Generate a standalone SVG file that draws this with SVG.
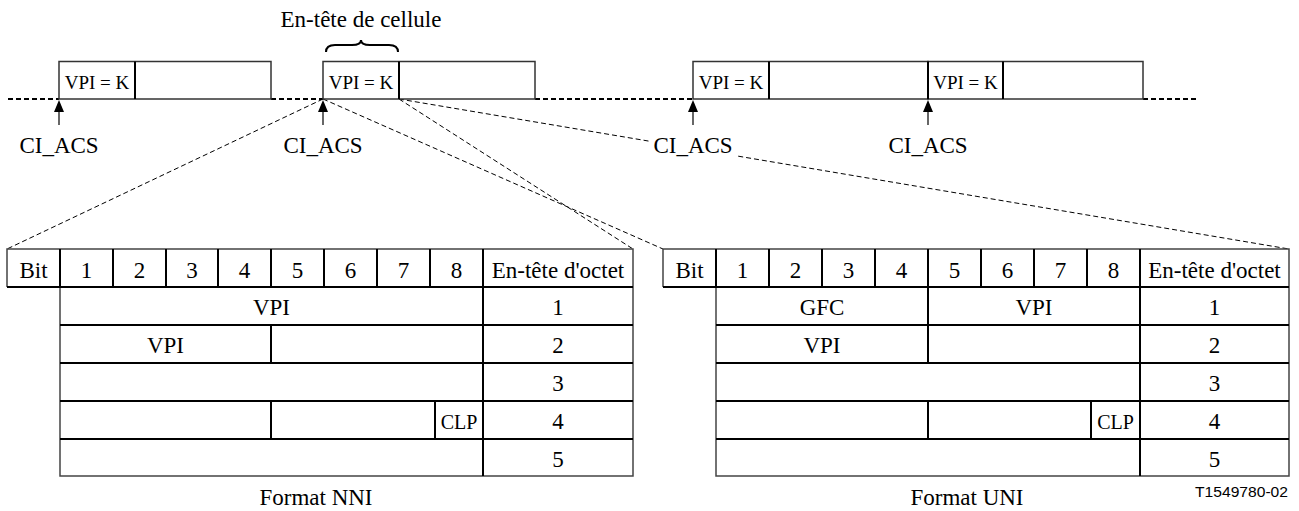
<svg xmlns="http://www.w3.org/2000/svg" width="1299" height="511" viewBox="0 0 1299 511" font-family="'Liberation Serif', 'Times New Roman', serif">
<defs>
<style>
.lbl{font-family:'Liberation Serif','Times New Roman',serif;font-size:23px;text-anchor:middle}
.k{font-family:'Liberation Serif','Times New Roman',serif;font-size:19px;text-anchor:middle}
.clp{font-family:'Liberation Serif','Times New Roman',serif;font-size:20px;text-anchor:middle}
.cell{fill:#fff;stroke:#333;stroke-width:1.5}
.div{stroke:#000;stroke-width:2}
.base{stroke:#000;stroke-width:2;stroke-dasharray:5 3;fill:none}
.fan{stroke:#000;stroke-width:1;stroke-dasharray:5 3;fill:none}
.shaft{stroke:#000;stroke-width:1.2}
.outer{fill:none;stroke:#444;stroke-width:1.5}
.in{stroke:#000;stroke-width:2}
</style>
</defs>
<rect width="1299" height="511" fill="#fff"/>

<g id="connectors">
<line class="base" x1="8" y1="99" x2="59" y2="99"/>
<line class="base" x1="271" y1="99" x2="323" y2="99"/>
<line class="base" x1="535" y1="99" x2="693" y2="99"/>
<line class="base" x1="1143" y1="99" x2="1196" y2="99"/>
<line class="fan" x1="323" y1="99" x2="7" y2="249"/>
<line class="fan" x1="399" y1="99" x2="633" y2="249"/>
<line class="fan" x1="323" y1="99" x2="663" y2="249"/>
<line class="fan" x1="399" y1="99" x2="1289" y2="249"/>
</g>

<g id="title">
<text class="lbl" x="361" y="27">En-tête de cellule</text>
<path d="M326,52 Q326,45 335,45 L352,45 Q361,45 361,40 Q361,45 370,45 L389,45 Q398,45 398,52" fill="none" stroke="#000" stroke-width="2"/>
</g>

<g id="cell1">
<rect class="cell" x="59" y="61.5" width="212" height="37.5"/>
<line class="div" x1="135" y1="61.5" x2="135" y2="99"/>
<text class="k" x="97" y="89">VPI = K</text>
</g>
<g id="cell2">
<rect class="cell" x="323" y="61.5" width="212" height="37.5"/>
<line class="div" x1="399" y1="61.5" x2="399" y2="99"/>
<text class="k" x="361" y="89">VPI = K</text>
</g>
<g id="cell3">
<rect class="cell" x="693" y="61.5" width="235" height="37.5"/>
<line class="div" x1="769" y1="61.5" x2="769" y2="99"/>
<text class="k" x="731" y="89">VPI = K</text>
</g>
<g id="cell4">
<rect class="cell" x="928" y="61.5" width="215" height="37.5"/>
<line class="div" x1="928" y1="61.5" x2="928" y2="99"/>
<line class="div" x1="1003" y1="61.5" x2="1003" y2="99"/>
<text class="k" x="965.5" y="89">VPI = K</text>
</g>

<g id="ci1">
<line class="shaft" x1="59" y1="108" x2="59" y2="125"/>
<polygon points="59,100 54,112 64,112" fill="#000"/>
<text class="lbl" x="59" y="153">CI_ACS</text>
</g>
<g id="ci2">
<line class="shaft" x1="323" y1="108" x2="323" y2="125"/>
<polygon points="323,100 318,112 328,112" fill="#000"/>
<text class="lbl" x="323" y="153">CI_ACS</text>
</g>
<g id="ci3">
<line class="shaft" x1="693" y1="108" x2="693" y2="125"/>
<polygon points="693,100 688,112 698,112" fill="#000"/>
<rect x="651" y="133" width="85" height="24" fill="#fff"/>
<text class="lbl" x="693" y="153">CI_ACS</text>
</g>
<g id="ci4">
<line class="shaft" x1="928" y1="108" x2="928" y2="125"/>
<polygon points="928,100 923,112 933,112" fill="#000"/>
<text class="lbl" x="928" y="153">CI_ACS</text>
</g>

<g id="nni">
<rect x="7" y="249" width="626" height="38" fill="#fff"/>
<rect x="60" y="287" width="573" height="189" fill="#fff"/>
<path class="outer" d="M7,287 L7,249 L633,249 L633,476 L60,476 L60,287"/>
<line class="in" x1="7" y1="287" x2="633" y2="287"/>
<line class="in" x1="60" y1="249" x2="60" y2="287"/>
<line class="in" x1="113" y1="249" x2="113" y2="287"/>
<line class="in" x1="166" y1="249" x2="166" y2="287"/>
<line class="in" x1="218" y1="249" x2="218" y2="287"/>
<line class="in" x1="271" y1="249" x2="271" y2="287"/>
<line class="in" x1="324" y1="249" x2="324" y2="287"/>
<line class="in" x1="377" y1="249" x2="377" y2="287"/>
<line class="in" x1="430" y1="249" x2="430" y2="287"/>
<line class="in" x1="483" y1="249" x2="483" y2="476"/>
<line class="in" x1="60" y1="325" x2="633" y2="325"/>
<line class="in" x1="60" y1="363" x2="633" y2="363"/>
<line class="in" x1="60" y1="401" x2="633" y2="401"/>
<line class="in" x1="60" y1="439" x2="633" y2="439"/>
<line class="in" x1="271" y1="325" x2="271" y2="363"/>
<line class="in" x1="271" y1="401" x2="271" y2="439"/>
<line class="in" x1="435" y1="401" x2="435" y2="439"/>
<text class="lbl" x="33.5" y="278">Bit</text>
<text class="lbl" x="86.5" y="278">1</text>
<text class="lbl" x="139.5" y="278">2</text>
<text class="lbl" x="192" y="278">3</text>
<text class="lbl" x="244.5" y="278">4</text>
<text class="lbl" x="297.5" y="278">5</text>
<text class="lbl" x="350.5" y="278">6</text>
<text class="lbl" x="403.5" y="278">7</text>
<text class="lbl" x="456.5" y="278">8</text>
<text class="lbl" x="558" y="278">En-tête d'octet</text>
<text class="lbl" x="271.5" y="315">VPI</text>
<text class="lbl" x="165.5" y="353">VPI</text>
<text class="clp" x="459" y="429">CLP</text>
<text class="lbl" x="558" y="315">1</text>
<text class="lbl" x="558" y="353">2</text>
<text class="lbl" x="558" y="391">3</text>
<text class="lbl" x="558" y="429">4</text>
<text class="lbl" x="558" y="467">5</text>
<text class="lbl" x="316" y="505">Format NNI</text>
</g>

<g id="uni">
<rect x="663" y="249" width="626" height="38" fill="#fff"/>
<rect x="716" y="287" width="573" height="189" fill="#fff"/>
<path class="outer" d="M663,287 L663,249 L1289,249 L1289,476 L716,476 L716,287"/>
<line class="in" x1="663" y1="287" x2="1289" y2="287"/>
<line class="in" x1="716" y1="249" x2="716" y2="287"/>
<line class="in" x1="769" y1="249" x2="769" y2="287"/>
<line class="in" x1="822" y1="249" x2="822" y2="287"/>
<line class="in" x1="875" y1="249" x2="875" y2="287"/>
<line class="in" x1="928" y1="249" x2="928" y2="363"/>
<line class="in" x1="981" y1="249" x2="981" y2="287"/>
<line class="in" x1="1034" y1="249" x2="1034" y2="287"/>
<line class="in" x1="1087" y1="249" x2="1087" y2="287"/>
<line class="in" x1="1140" y1="249" x2="1140" y2="476"/>
<line class="in" x1="716" y1="325" x2="1289" y2="325"/>
<line class="in" x1="716" y1="363" x2="1289" y2="363"/>
<line class="in" x1="716" y1="401" x2="1289" y2="401"/>
<line class="in" x1="716" y1="439" x2="1289" y2="439"/>
<line class="in" x1="928" y1="401" x2="928" y2="439"/>
<line class="in" x1="1091" y1="401" x2="1091" y2="439"/>
<text class="lbl" x="689.5" y="278">Bit</text>
<text class="lbl" x="742.5" y="278">1</text>
<text class="lbl" x="795.5" y="278">2</text>
<text class="lbl" x="848.5" y="278">3</text>
<text class="lbl" x="901.5" y="278">4</text>
<text class="lbl" x="954.5" y="278">5</text>
<text class="lbl" x="1007.5" y="278">6</text>
<text class="lbl" x="1060.5" y="278">7</text>
<text class="lbl" x="1113.5" y="278">8</text>
<text class="lbl" x="1214.5" y="278">En-tête d'octet</text>
<text class="lbl" x="822" y="315">GFC</text>
<text class="lbl" x="1034" y="315">VPI</text>
<text class="lbl" x="822" y="353">VPI</text>
<text class="clp" x="1115.5" y="429">CLP</text>
<text class="lbl" x="1214.5" y="315">1</text>
<text class="lbl" x="1214.5" y="353">2</text>
<text class="lbl" x="1214.5" y="391">3</text>
<text class="lbl" x="1214.5" y="429">4</text>
<text class="lbl" x="1214.5" y="467">5</text>
<text class="lbl" x="967" y="505">Format UNI</text>
</g>

<text x="1288" y="497" font-family="'Liberation Sans', Arial, sans-serif" font-size="15" text-anchor="end" textLength="93" lengthAdjust="spacingAndGlyphs">T1549780-02</text>
</svg>
